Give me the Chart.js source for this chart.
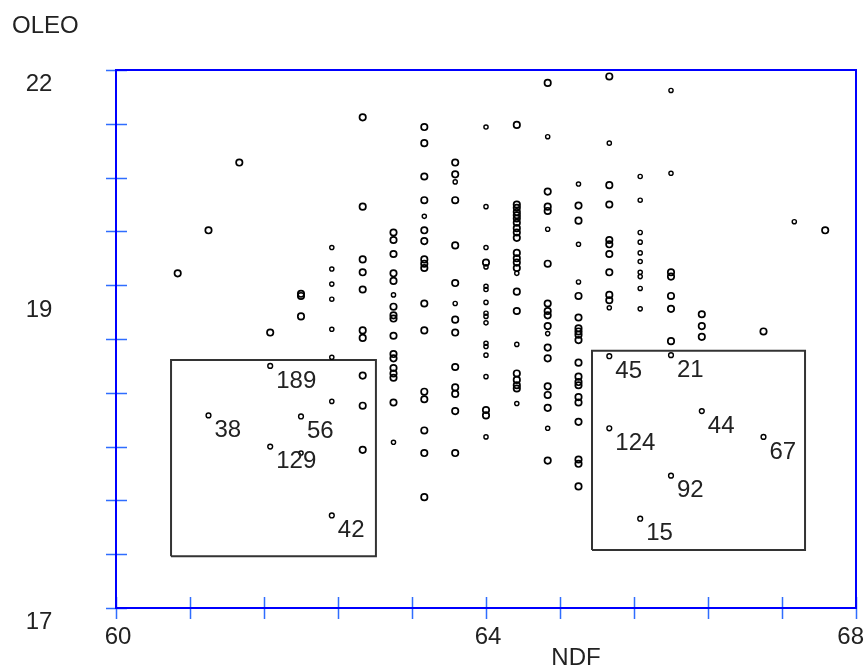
<!DOCTYPE html>
<html>
<head>
<meta charset="utf-8">
<script src="https://cdn.jsdelivr.net/npm/chart.js@4"></script>
<style>
  body { margin: 0; background: #fff; }
  canvas { display: block; }
</style>
</head>
<body>
<canvas id="myChart" width="865" height="669"></canvas>
<script>
// NDF levels (one column of points each)
const ndfLevels = [60.667, 61.0, 61.333, 61.667, 62.0, 62.333, 62.667, 63.0, 63.333, 63.667, 64.0,
    64.333, 64.667, 65.0, 65.333, 65.667, 66.0, 66.333, 66.667, 67.0, 67.333, 67.667];

// OLEO values per NDF level, big open circles
const bigOleo = [
    [20.11],
    [20.51],
    [21.14],
    [19.56],
    [19.92, 19.90, 19.71],
    [],
    [21.56, 20.73, 20.24, 20.12, 19.96, 19.58, 19.51, 19.16, 18.88, 18.47],
    [20.49, 20.42, 20.29, 20.11, 20.04, 19.80, 19.72, 19.69, 19.53, 19.36, 19.32, 19.23, 19.18, 19.14, 18.91],
    [21.47, 21.32, 21.01, 20.79, 20.51, 20.41, 20.24, 20.20, 20.16, 19.83, 19.58, 19.01, 18.94, 18.65, 18.44, 18.03],
    [21.14, 21.03, 20.79, 20.37, 20.02, 19.68, 19.56, 19.24, 19.05, 18.99, 18.83, 18.44],
    [20.21, 18.84, 18.79],
    [21.49, 20.75, 20.72, 20.68, 20.65, 20.62, 20.58, 20.53, 20.49, 20.44, 20.30, 20.25, 20.21, 20.16, 19.94, 19.76, 19.18, 19.12, 19.07, 19.04],
    [21.88, 20.87, 20.73, 20.69, 20.20, 19.83, 19.76, 19.72, 19.62, 19.42, 19.32, 19.06, 18.98, 18.86, 18.37],
    [20.74, 20.60, 19.90, 19.70, 19.60, 19.57, 19.54, 19.49, 19.28, 19.15, 19.10, 19.07, 18.96, 18.91, 18.73, 18.38, 18.34, 18.13],
    [21.94, 20.93, 20.75, 20.42, 20.38, 20.29, 20.12, 19.91, 19.86],
    [],
    [20.12, 20.08, 19.90, 19.78, 19.48],
    [19.73, 19.62, 19.52],
    [],
    [19.57],
    [],
    [20.51]
];

// OLEO values per NDF level, small circles
const smallOleo = [
    [], [], [], [],
    [18.44],
    [20.35, 20.15, 20.01, 19.87, 19.59, 19.33, 18.92],
    [],
    [19.91, 18.54],
    [20.64],
    [20.96, 19.83],
    [21.47, 20.73, 20.35, 20.17, 19.99, 19.96, 19.84, 19.74, 19.71, 19.65, 19.46, 19.43, 19.35, 19.15, 18.59],
    [20.11, 19.45, 18.90],
    [21.38, 20.52, 19.55, 18.67],
    [20.94, 20.38, 20.03],
    [21.32, 19.79],
    [21.01, 20.79, 20.49, 20.40, 20.30, 20.22, 20.12, 20.08, 19.97, 19.78],
    [21.81, 21.04],
    [], [], [],
    [20.59],
    []
];

// labelled observations
const tagIds = ['189', '38', '56', '129', '42', '45', '21', '124', '44', '67', '92', '15'];
const tagNdf = [61.667, 61.0, 62.0, 61.667, 62.333, 65.333, 66.0, 65.333, 66.333, 67.0, 66.0, 65.667];
const tagOleo = [19.25, 18.79, 18.78, 18.50, 17.86, 19.34, 19.35, 18.67, 18.83, 18.59, 18.23, 17.83];

// the two boxes round the labelled groups: [ndf left, ndf right, oleo bottom, oleo top]
const boxLeft = [60.595, 62.81, 17.48, 19.305];
const boxRight = [65.146, 67.449, 17.54, 19.39];

// tick labels
const xTickLabels = ['60', '64', '68'];
const xTickValues = [60, 64, 68];
const yTickLabels = ['22', '19', '17'];
const yTickValues = [22, 19.9, 17];

function toPoints(levels) {
    let pts = [];
    for (let i = 0; i < ndfLevels.length; i++) {
        levels[i].forEach(v => pts.push({ x: ndfLevels[i], y: v }));
    }
    return pts;
}

function boxPoints(b) {
    return [
        { x: b[0], y: b[2] }, { x: b[1], y: b[2] }, { x: b[1], y: b[3] },
        { x: b[0], y: b[3] }, { x: b[0], y: b[2] }
    ];
}

const font = '24px "Liberation Sans", Arial, sans-serif';
const textColor = '#222';

// blue frame with crossing tick marks, plus all the texts
const framePlugin = {
    id: 'frame',
    beforeDatasetsDraw(chart) {
        const { ctx, chartArea: a, scales: { x, y } } = chart;
        ctx.save();
        ctx.strokeStyle = '#2f6dff';
        ctx.lineWidth = 1.5;
        ctx.beginPath();
        y.ticks.forEach(t => {
            const py = Math.round(y.getPixelForValue(t.value)) + 0.5;
            ctx.moveTo(a.left - 10, py);
            ctx.lineTo(a.left + 11, py);
        });
        x.ticks.forEach(t => {
            const px = Math.round(x.getPixelForValue(t.value)) + 0.5;
            ctx.moveTo(px, a.bottom - 11);
            ctx.lineTo(px, a.bottom + 11);
        });
        ctx.stroke();
        ctx.strokeStyle = '#0000ff';
        ctx.lineWidth = 2;
        ctx.strokeRect(a.left, a.top, a.right - a.left, a.bottom - a.top);
        ctx.restore();
    },
    afterDraw(chart) {
        const { ctx, chartArea: a, scales: { x, y } } = chart;
        ctx.save();
        ctx.font = font;
        ctx.fillStyle = textColor;
        ctx.textBaseline = 'middle';

        // point labels, lower right of each point
        ctx.textAlign = 'left';
        for (let i = 0; i < tagIds.length; i++) {
            const px = x.getPixelForValue(tagNdf[i]);
            const py = y.getPixelForValue(tagOleo[i]);
            ctx.fillText(tagIds[i], px + 6, py + 15);
        }

        // y tick labels
        ctx.textAlign = 'center';
        for (let i = 0; i < yTickLabels.length; i++) {
            ctx.fillText(yTickLabels[i], 39, y.getPixelForValue(yTickValues[i]) + 14);
        }
        // x tick labels
        for (let i = 0; i < xTickLabels.length; i++) {
            let px = x.getPixelForValue(xTickValues[i]);
            const half = ctx.measureText(xTickLabels[i]).width / 2;
            px = Math.min(px + 2, chart.width - half - 1);
            ctx.fillText(xTickLabels[i], px, a.bottom + 29);
        }

        // axis titles
        ctx.textAlign = 'left';
        ctx.fillText('OLEO', 12, 26);
        ctx.textAlign = 'center';
        ctx.fillText('NDF', 576, a.bottom + 50);
        ctx.restore();
    }
};

const hiddenScale = {
    type: 'linear',
    ticks: { display: false },
    grid: { display: false, drawTicks: false },
    border: { display: false }
};

const myChart = document.getElementById('myChart').getContext('2d');
const chart = new Chart(myChart, {
    type: 'scatter',
    data: {
        datasets: [
            {
                data: toPoints(bigOleo),
                pointRadius: 3.2,
                pointBorderWidth: 1.7,
                pointBorderColor: '#000',
                pointBackgroundColor: 'rgba(255,255,255,0)',
            },
            {
                data: toPoints(smallOleo),
                pointRadius: 2.1,
                pointBorderWidth: 1.4,
                pointBorderColor: '#000',
                pointBackgroundColor: 'rgba(255,255,255,0)',
            },
            {
                data: tagNdf.map((v, i) => ({ x: v, y: tagOleo[i] })),
                pointRadius: 2.4,
                pointBorderWidth: 1.4,
                pointBorderColor: '#000',
                pointBackgroundColor: 'rgba(255,255,255,0)',
            },
            {
                data: boxPoints(boxLeft),
                showLine: true,
                borderColor: '#333',
                borderWidth: 2,
                pointRadius: 0,
                tension: 0,
            },
            {
                data: boxPoints(boxRight),
                showLine: true,
                borderColor: '#333',
                borderWidth: 2,
                pointRadius: 0,
                tension: 0,
            }
        ]
    },
    options: {
        responsive: false,
        animation: false,
        devicePixelRatio: 1,
        layout: {
            padding: { left: 116, top: 70, right: 9, bottom: 61 }
        },
        scales: {
            x: Object.assign({}, hiddenScale, { min: 60, max: 68, ticks: { display: false, stepSize: 0.8 } }),
            y: Object.assign({}, hiddenScale, { min: 17, max: 22, ticks: { display: false, stepSize: 0.5 } }),
        },
        plugins: {
            legend: { display: false },
            tooltip: { enabled: false },
        },
    },
    plugins: [framePlugin]
});
</script>
</body>
</html>
